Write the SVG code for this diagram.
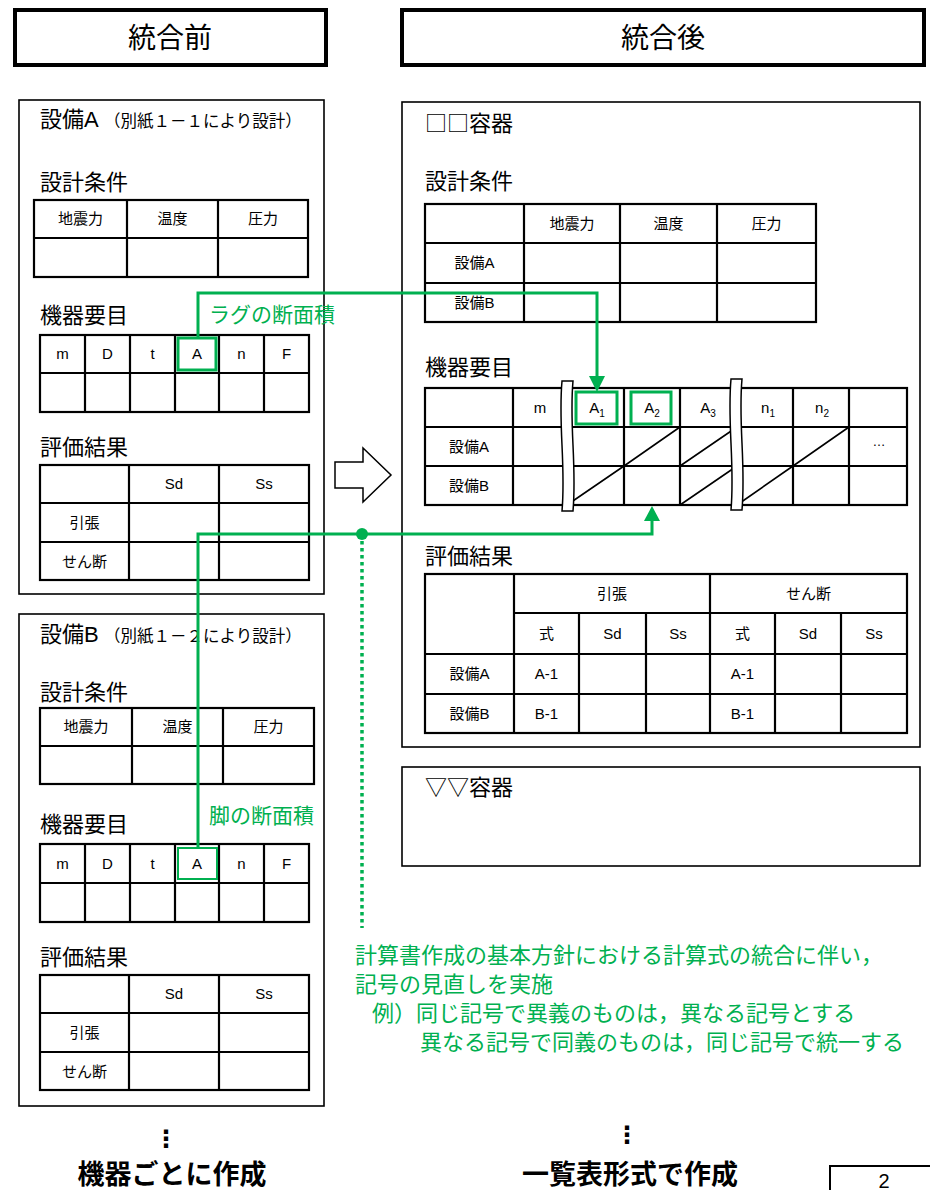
<svg xmlns="http://www.w3.org/2000/svg" width="930" height="1190" viewBox="0 0 930 1190">
<style>
text{font-family:'Liberation Sans','Noto Sans CJK JP',sans-serif;fill:#000}
.h{font-size:28px;text-anchor:middle}
.ti{font-size:22px}
.cjk{font-family:'Noto Sans CJK JP',sans-serif}
.sm{font-size:16.5px}
.c{font-size:15px;text-anchor:middle}
.g{fill:#00B050}
.gt{font-size:21px;fill:#00B050}
.note{font-size:22px;fill:#00B050}
.b{font-size:27px;font-weight:700;text-anchor:middle}
.hb{fill:#fff;stroke:#000;stroke-width:4}
.pn{fill:#fff;stroke:#000;stroke-width:1.6}
.tb{fill:none;stroke:#000;stroke-width:2.2}
.ln{stroke:#000;stroke-width:2.2;fill:none}
.dg{stroke:#000;stroke-width:1.6}
.gb{fill:none;stroke:#00B050;stroke-width:3}
.gl{fill:none;stroke:#00B050;stroke-width:3}
.strip{fill:#fff;stroke:#000;stroke-width:1.5}
</style>

<g id="header-before">
<rect class="hb" x="15" y="10" width="311" height="55"/>
<text class="h" x="170" y="48">統合前</text>
</g>
<g id="header-after">
<rect class="hb" x="402" y="10" width="522" height="55"/>
<text class="h" x="663" y="48">統合後</text>
</g>

<g id="panel-A">
<rect class="pn" x="19" y="100" width="305" height="494"/>
<text class="ti" x="40" y="127">設備A</text>
<text class="sm" x="104" y="127">（別紙１－１により設計）</text>
<text class="ti" x="40" y="190">設計条件</text>
<rect class="tb" x="34" y="200" width="274" height="77"/>
<path class="ln" d="M34,238H308M127,200V277M218,200V277"/>
<text class="c" x="80.5" y="224">地震力</text>
<text class="c" x="172.5" y="224">温度</text>
<text class="c" x="263" y="224">圧力</text>
<text class="ti" x="40" y="323">機器要目</text>
<rect class="tb" x="40" y="335" width="269" height="77"/>
<path class="ln" d="M40,373H309M85,335V412M130,335V412M175,335V412M219,335V412M264,335V412"/>
<text class="c" x="62.5" y="359">m</text>
<text class="c" x="107.5" y="359">D</text>
<text class="c" x="152.5" y="359">t</text>
<text class="c" x="197" y="359">A</text>
<text class="c" x="241.5" y="359">n</text>
<text class="c" x="286.5" y="359">F</text>
<rect class="gb" x="178" y="338" width="38" height="32"/>
<text class="gt" x="209" y="322">ラグの断面積</text>
<text class="ti" x="40" y="455">評価結果</text>
<rect class="tb" x="40" y="465" width="269" height="115"/>
<path class="ln" d="M40,503H309M40,542H309M129,465V580M219,465V580"/>
<text class="c" x="174" y="489">Sd</text>
<text class="c" x="264" y="489">Ss</text>
<text class="c" x="84.5" y="528">引張</text>
<text class="c" x="84.5" y="567">せん断</text>
</g>

<g id="panel-B">
<rect class="pn" x="19" y="614" width="305" height="492"/>
<text class="ti" x="40" y="642">設備B</text>
<text class="sm" x="104" y="642">（別紙１－２により設計）</text>
<text class="ti" x="40" y="700">設計条件</text>
<rect class="tb" x="40" y="708" width="274" height="76"/>
<path class="ln" d="M40,746H314M132,708V784M223,708V784"/>
<text class="c" x="86" y="732">地震力</text>
<text class="c" x="177.5" y="732">温度</text>
<text class="c" x="268.5" y="732">圧力</text>
<text class="ti" x="40" y="832">機器要目</text>
<rect class="tb" x="40" y="844" width="269" height="78"/>
<path class="ln" d="M40,883H309M85,844V922M130,844V922M175,844V922M219,844V922M264,844V922"/>
<text class="c" x="62.5" y="869">m</text>
<text class="c" x="107.5" y="869">D</text>
<text class="c" x="152.5" y="869">t</text>
<text class="c" x="197" y="869">A</text>
<text class="c" x="241.5" y="869">n</text>
<text class="c" x="286.5" y="869">F</text>
<rect fill="none" stroke="#00B050" stroke-width="2" x="178" y="848" width="39" height="31"/>
<text class="gt" x="209" y="823">脚の断面積</text>
<text class="ti" x="40" y="965">評価結果</text>
<rect class="tb" x="40" y="975" width="269" height="115"/>
<path class="ln" d="M40,1013H309M40,1052H309M129,975V1090M219,975V1090"/>
<text class="c" x="174" y="999">Sd</text>
<text class="c" x="264" y="999">Ss</text>
<text class="c" x="84.5" y="1038">引張</text>
<text class="c" x="84.5" y="1077">せん断</text>
</g>

<g id="arrow-block">
<polygon points="335,462 363,462 363,448 391,475 363,502 363,488 335,488" fill="#fff" stroke="#000" stroke-width="1.5"/>
</g>

<g id="panel-merged">
<rect class="pn" x="402" y="102" width="518" height="645"/>
<text class="ti cjk" x="425" y="131">□□容器</text>
<text class="ti" x="425" y="189">設計条件</text>
<rect class="tb" x="425" y="204" width="391" height="118"/>
<path class="ln" d="M425,243H816M425,283H816M524,204V322M620,204V322M717,204V322"/>
<text class="c" x="572" y="229">地震力</text>
<text class="c" x="668.5" y="229">温度</text>
<text class="c" x="766.5" y="229">圧力</text>
<text class="c" x="474.5" y="268">設備A</text>
<text class="c" x="474.5" y="308">設備B</text>

<text class="ti" x="425" y="375">機器要目</text>
<rect class="tb" x="425" y="388" width="482" height="117"/>
<path class="ln" d="M425,427H907M425,466H907M513,388V505M567,388V505M624,388V505M680,388V505M737,388V505M793,388V505M849,388V505"/>
<path class="dg" d="M624,466L680,427M680,466L737,427M793,466L849,427M567,505L624,466M680,505L737,466M737,505L793,466"/>
<path class="strip" d="M562,381C558,425 566,465 562,511L573,511C577,465 569,425 573,381Z"/>
<path class="strip" d="M731,379C727,423 735,463 731,510L742,510C746,463 738,423 742,379Z"/>
<text class="c" x="540" y="413">m</text>
<text class="c" x="597" y="413">A<tspan font-size="10" dy="4">1</tspan></text>
<text class="c" x="652" y="413">A<tspan font-size="10" dy="4">2</tspan></text>
<text class="c" x="708" y="413">A<tspan font-size="10" dy="4">3</tspan></text>
<text class="c" x="768" y="413">n<tspan font-size="10" dy="4">1</tspan></text>
<text class="c" x="822" y="413">n<tspan font-size="10" dy="4">2</tspan></text>
<text class="c" x="469" y="452">設備A</text>
<text class="c" x="469" y="491">設備B</text>
<text x="879" y="446" font-size="13" text-anchor="middle">…</text>
<rect class="gb" x="576" y="392" width="41" height="32"/>
<rect class="gb" x="631" y="392" width="40" height="32"/>

<text class="ti" x="425" y="564">評価結果</text>
<rect class="tb" x="425" y="574" width="482" height="159"/>
<path class="ln" d="M514,613H907M425,654H907M425,694H907M514,574V733M710,574V733M579,613V733M646,613V733M775,613V733M841,613V733"/>
<text class="c" x="612" y="599">引張</text>
<text class="c" x="808.5" y="599">せん断</text>
<text class="c" x="546.5" y="639">式</text>
<text class="c" x="612.5" y="639">Sd</text>
<text class="c" x="678" y="639">Ss</text>
<text class="c" x="742.5" y="639">式</text>
<text class="c" x="808" y="639">Sd</text>
<text class="c" x="874" y="639">Ss</text>
<text class="c" x="469.5" y="679">設備A</text>
<text class="c" x="546.5" y="679">A-1</text>
<text class="c" x="742.5" y="679">A-1</text>
<text class="c" x="469.5" y="719">設備B</text>
<text class="c" x="546.5" y="719">B-1</text>
<text class="c" x="742.5" y="719">B-1</text>
</g>

<g id="panel-other">
<rect class="pn" x="402" y="767" width="518" height="99"/>
<text class="ti cjk" x="425" y="795">▽▽容器</text>
</g>

<g id="connectors">
<path class="gl" d="M198,338V293H597V378"/>
<polygon class="g" points="589,376 605,376 597,392"/>
<path class="gl" d="M198,848V534H652V520"/>
<polygon class="g" points="644,521 660,521 652,506"/>
<circle class="g" cx="362" cy="534" r="6"/>
<line x1="362" y1="541" x2="362" y2="928" stroke="#00B050" stroke-width="3.5" stroke-dasharray="3.5 3.5"/>
</g>

<g id="note">
<text class="note" x="355" y="963">計算書作成の基本方針における計算式の統合に伴い，</text>
<text class="note" x="355" y="992">記号の見直しを実施</text>
<text class="note" x="372" y="1021">例）同じ記号で異義のものは，異なる記号とする</text>
<text class="note" x="420" y="1050">異なる記号で同義のものは，同じ記号で統一する</text>
</g>

<g id="footer">
<text x="166" y="1147" font-size="24" font-weight="700" text-anchor="middle" style="font-family:'DejaVu Sans',sans-serif">⋮</text>
<text class="b" x="172" y="1184">機器ごとに作成</text>
<text x="627" y="1143" font-size="24" font-weight="700" text-anchor="middle" style="font-family:'DejaVu Sans',sans-serif">⋮</text>
<text class="b" x="630" y="1184">一覧表形式で作成</text>
<rect x="830" y="1166" width="110" height="40" fill="#fff" stroke="#000" stroke-width="2"/>
<text x="884" y="1188" font-size="20" text-anchor="middle">2</text>
</g>
</svg>
